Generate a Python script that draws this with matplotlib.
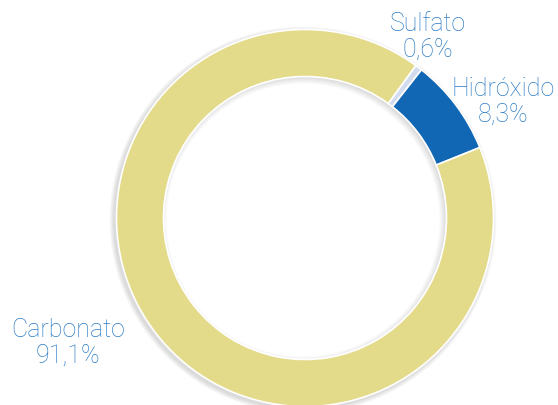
import matplotlib
matplotlib.use("Agg")
import matplotlib.pyplot as plt
from matplotlib.patches import Wedge

labels = ["Sulfato", "Hidróxido", "Carbonato"]
values = [0.6, 8.3, 91.1]
pct_labels = ["0,6%", "8,3%", "91,1%"]
colors = ["#D3DCEE", "#1167B4", "#E3DA8A"]

W, H = 558, 406
fig = plt.figure(figsize=(W / 100, H / 100), dpi=100)
ax = fig.add_axes([0, 0, 1, 1])
ax.set_xlim(0, W)
ax.set_ylim(0, H)
ax.set_aspect("equal")
ax.axis("off")

cx, cy = 305, H - 219
R, ring = 188.5, 47

# soft shadow
for i in range(6):
    ax.add_patch(Wedge((cx - 2, cy - 2), R + 1 + i * 0.8, 0, 360, width=ring + 2 * i,
                       facecolor="black", alpha=0.025, edgecolor="none", zorder=0))

ax.pie(values, colors=colors, startangle=54, counterclock=False,
       center=(cx, cy), radius=R, frame=True,
       wedgeprops=dict(width=ring, edgecolor="white", linewidth=1.2))
ax.set_xlim(0, W)
ax.set_ylim(0, H)
ax.axis("off")

txt_color = "#2C7CC4"
pos = {"Sulfato": (428, 37), "Hidróxido": (503, 102), "Carbonato": (68, 343)}
for lab, p in zip(labels, pct_labels):
    x, y = pos[lab]
    ax.text(x, H - y, f"{lab}\n{p}", ha="center", va="center", fontsize=18,
            color=txt_color, family="Roboto", fontweight="light", linespacing=1.1,
            zorder=5)

fig.savefig("out.png", dpi=100)
